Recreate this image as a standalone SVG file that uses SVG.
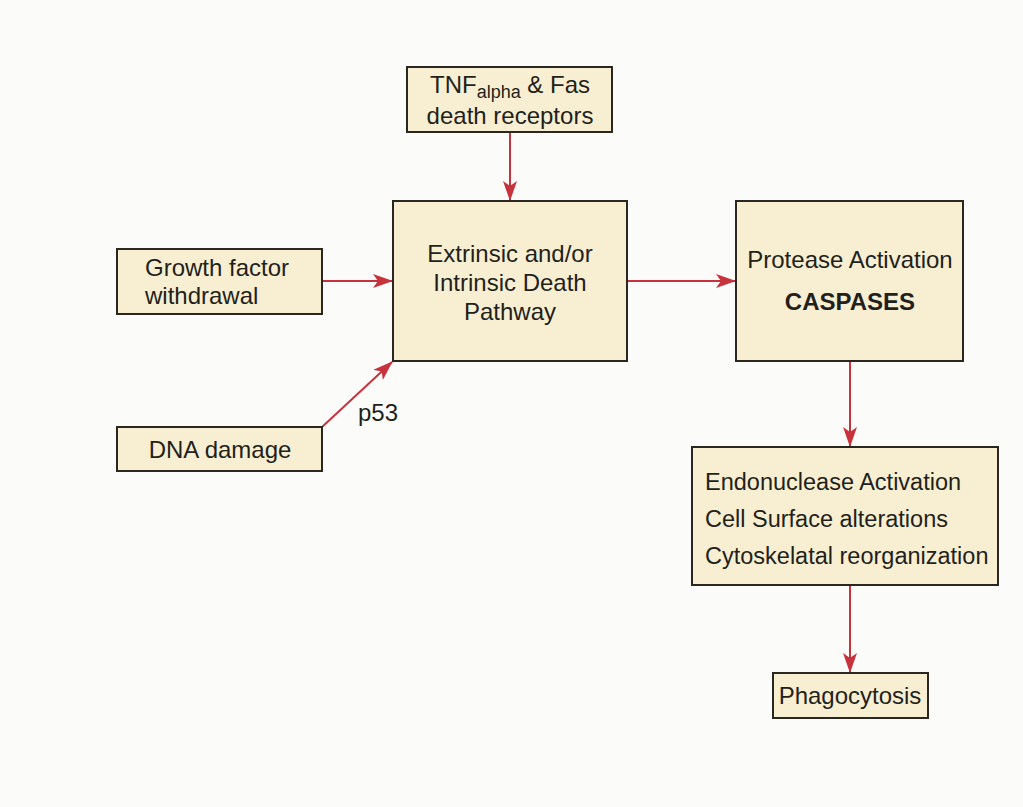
<svg xmlns="http://www.w3.org/2000/svg" width="1023" height="807" viewBox="0 0 1023 807">
<style>
.box{fill:#f8efd3;stroke:#2a2620;stroke-width:2}
.t{font-family:"Liberation Sans Narrow","Liberation Sans",Arial,sans-serif;font-size:24px;fill:#231f1a}
.s{font-size:23.5px}
.b{font-weight:bold}
.c{stroke:#c8323c;stroke-width:2;fill:none;marker-end:url(#ah)}
</style>
<defs>
<marker id="ah" viewBox="0 0 20 14" refX="19" refY="7" markerWidth="20" markerHeight="14" markerUnits="userSpaceOnUse" orient="auto">
<path d="M0,0 L20,7 L0,14 L5,7 Z" fill="#c8323c"/>
</marker>
</defs>
<rect width="1023" height="807" fill="#fbfbfa"/>
<g id="connectors">
<line class="c" x1="510" y1="133" x2="510" y2="200"/>
<line class="c" x1="323" y1="281" x2="392" y2="281"/>
<line class="c" x1="322" y1="427" x2="392" y2="362"/>
<line class="c" x1="628" y1="281" x2="735" y2="281"/>
<line class="c" x1="850" y1="362" x2="850" y2="446"/>
<line class="c" x1="850" y1="586" x2="850" y2="672"/>
<text class="t" x="358" y="421">p53</text>
</g>
<g id="tnf">
<rect class="box" x="407" y="67" width="205" height="65"/>
<text class="t" x="510" y="93" text-anchor="middle">TNF<tspan font-size="18" dy="5">alpha</tspan><tspan dy="-5"> &amp; Fas</tspan></text>
<text class="t" x="510" y="124" text-anchor="middle">death receptors</text>
</g>
<g id="growth">
<rect class="box" x="117" y="249" width="205" height="65"/>
<text class="t" x="145" y="276">Growth factor</text>
<text class="t" x="145" y="304">withdrawal</text>
</g>
<g id="dna">
<rect class="box" x="117" y="427" width="205" height="44"/>
<text class="t" x="220" y="458" text-anchor="middle">DNA damage</text>
</g>
<g id="pathway">
<rect class="box" x="393" y="201" width="234" height="160"/>
<text class="t" x="510" y="262" text-anchor="middle">Extrinsic and/or</text>
<text class="t" x="510" y="291" text-anchor="middle">Intrinsic Death</text>
<text class="t" x="510" y="320" text-anchor="middle">Pathway</text>
</g>
<g id="protease">
<rect class="box" x="736" y="201" width="227" height="160"/>
<text class="t" x="850" y="268" text-anchor="middle">Protease Activation</text>
<text class="t b" x="850" y="310" text-anchor="middle">CASPASES</text>
</g>
<g id="endo">
<rect class="box" x="692" y="447" width="306" height="138"/>
<text class="t s" x="705" y="490">Endonuclease Activation</text>
<text class="t s" x="705" y="527">Cell Surface alterations</text>
<text class="t s" x="705" y="564">Cytoskelatal reorganization</text>
</g>
<g id="phago">
<rect class="box" x="773" y="673" width="155" height="45"/>
<text class="t" x="850" y="704" text-anchor="middle">Phagocytosis</text>
</g>
</svg>
